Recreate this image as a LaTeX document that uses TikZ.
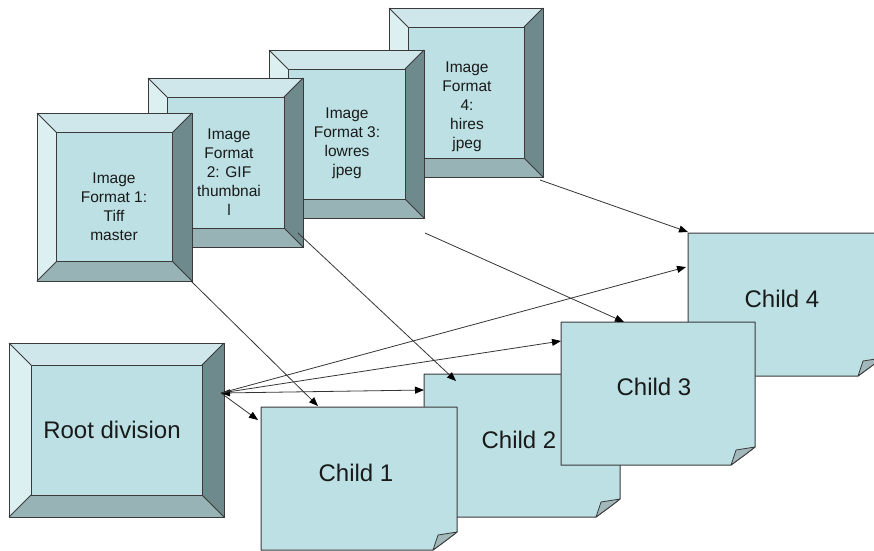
\documentclass[tikz,border=0pt]{standalone}
\usepackage{fontspec}
\setmainfont{Liberation Sans}
\usetikzlibrary{arrows.meta}
\definecolor{face}{HTML}{BCE0E3}
\definecolor{btop}{HTML}{CFE7EA}
\definecolor{bleft}{HTML}{DCEFF1}
\definecolor{bright}{HTML}{6F8A8C}
\definecolor{bbot}{HTML}{98B3B5}
\definecolor{flapc}{HTML}{A2B8BB}
\definecolor{edgec}{HTML}{3A3A3A}
\definecolor{lnk}{HTML}{353535}
\definecolor{txt}{HTML}{1A1A1A}
\tikzset{
  bvline/.style={draw=edgec, line width=0.8pt},
  bvframe/.style={draw=edgec, line width=0.9pt, inner sep=0pt, fill=none},
  notebody/.style={fill=face, draw=edgec, line width=1pt, line join=round},
  noteflap/.style={fill=flapc, draw=edgec, line width=0.8pt, line join=round},
  smalltxt/.style={align=center, text=txt, inner sep=0pt, font=\fontsize{15.5}{19}\selectfont},
  bigtxt/.style={text=txt, inner sep=0pt, font=\fontsize{24}{28}\selectfont},
  tip/.style={Triangle[length=9pt,width=7pt,fill=black,color=black]},
  conn/.style={draw=lnk, line width=0.8pt, -{Triangle[length=9pt,width=7pt,fill=black,color=black]}},
  conn2/.style={draw=lnk, line width=0.8pt, {Triangle[length=9pt,width=7pt,fill=black,color=black]}-{Triangle[length=9pt,width=7pt,fill=black,color=black]}}
}
% name L T R B bevel
\newcommand{\bvbox}[6]{%
  \fill[btop] (#2,#3) -- (#4,#3) -- (#4-#6,#3+#6) -- (#2+#6,#3+#6) -- cycle;
  \fill[bleft] (#2,#3) -- (#2+#6,#3+#6) -- (#2+#6,#5-#6) -- (#2,#5) -- cycle;
  \fill[bright] (#4,#3) -- (#4,#5) -- (#4-#6,#5-#6) -- (#4-#6,#3+#6) -- cycle;
  \fill[bbot] (#2,#5) -- (#2+#6,#5-#6) -- (#4-#6,#5-#6) -- (#4,#5) -- cycle;
  \fill[face] (#2+#6,#3+#6) rectangle (#4-#6,#5-#6);
  \draw[bvline] (#2,#3) -- (#2+#6,#3+#6) (#4,#3) -- (#4-#6,#3+#6)
     (#2,#5) -- (#2+#6,#5-#6) (#4,#5) -- (#4-#6,#5-#6);
  \draw[bvline] (#2+#6,#3+#6) rectangle (#4-#6,#5-#6);
  \node[bvframe, minimum width={(#4-#2)*1pt}, minimum height={(#5-#3)*1pt}]
     (#1) at ({(#2+#4)/2},{(#3+#5)/2}) {};
}
% name L T R B
\newcommand{\notebox}[5]{%
  \path[notebody] (#2,#3) -- (#4,#3) -- (#4,#5-18)
     .. controls (#4-9,#5-11) .. (#4-24,#5) -- (#2,#5) -- cycle;
  \path[noteflap] (#4,#5-18) .. controls (#4-9,#5-11) .. (#4-24,#5)
     .. controls (#4-21,#5-8) .. (#4-19,#5-15) -- cycle;
  \coordinate (#1) at ({(#2+#4)/2},{(#3+#5)/2});
}
\begin{document}
\begin{tikzpicture}[x=1pt,y=-1pt]
\useasboundingbox (0,0) rectangle (874,550);
\clip (0,0) rectangle (874,550);

% image format boxes (back to front)
\bvbox{img4}{389}{8}{543}{177}{19}
\node[smalltxt] (t4) at (467,107) {Image\\Format\\4:\\hires\\jpeg};
\bvbox{img3}{269}{50}{424}{218}{19}
\node[smalltxt] (t3) at (347,143) {Image\\Format 3:\\lowres\\jpeg};
\bvbox{img2}{148}{78}{303}{247}{19}
\node[smalltxt] (t2) at (229,172) {Image\\Format\\2: GIF\\thumbnai\\l};
\bvbox{img1}{37}{113}{192}{281}{19.5}
\node[smalltxt] (t1) at (114,207) {Image\\Format 1:\\Tiff\\master};

% root
\bvbox{root}{9}{343}{224}{517}{22}
\node[bigtxt] (troot) at (112,430) {Root division};

% children
\notebox{ch4}{688}{233}{882}{376}
\node[bigtxt] (tc4) at (782,299) {Child 4};
\notebox{ch2}{424}{374}{620}{517}
\node[bigtxt] (tc2) at (519,440) {Child 2};
\notebox{ch3}{561}{322}{755}{465}
\node[bigtxt] (tc3) at (654,387) {Child 3};
\notebox{ch1}{261}{407}{457}{550}
\node[bigtxt] (tc1) at (356,473) {Child 1};

% connector end points
\coordinate (s1) at (191,281);
\coordinate (s2) at (298,233);
\coordinate (s3) at (425,233);
\coordinate (s4) at (540,180);
\coordinate (e1) at (318,406);
\coordinate (e2) at (456,381);
\coordinate (e3) at (624,322);
\coordinate (e4) at (688,232);
\coordinate (rs) at (221,393);
\coordinate (r1) at (258,420);
\coordinate (r2) at (424,390);
\coordinate (r3) at (561,341);
\coordinate (r4) at (686,267);

\draw[conn] (s1) -- (e1);
\draw[conn] (s2) -- (e2);
\draw[conn] (s3) -- (e3);
\draw[conn] (s4) -- (e4);
\draw[conn] (rs) -- (r1);
\draw[conn2] (rs) -- (r2);
\draw[conn] (rs) -- (r3);
\draw[conn] (rs) -- (r4);
\end{tikzpicture}
\end{document}
